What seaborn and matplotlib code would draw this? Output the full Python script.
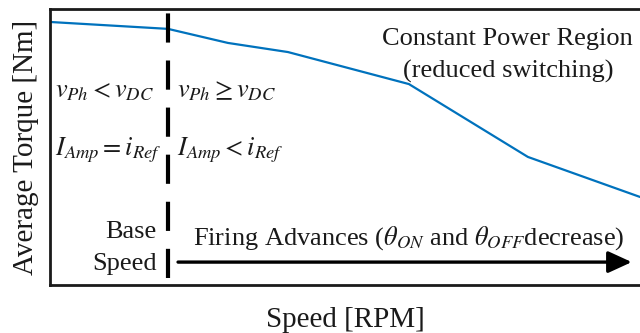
import matplotlib
matplotlib.use("Agg")
import matplotlib.pyplot as plt
import seaborn as sns
import pandas as pd

# Torque-speed curve of the drive (arbitrary units)
speed_rpm = [0, 1200, 1810, 2420, 3650, 4860, 6000]
avg_torque = [9.53, 9.28, 8.77, 8.44, 7.28, 4.64, 3.19]
base_speed = 1200

speed_max = 6000
torque_max = 10

sns.set_theme(style="white")
plt.rcParams["font.family"] = ["Liberation Serif", "DejaVu Serif"]
plt.rcParams["mathtext.fontset"] = "stix"

fig = plt.figure(figsize=(6.4, 3.33), dpi=100)
ax = fig.add_axes([50 / 640, 48 / 333, 590 / 640, 276 / 333])

df = pd.DataFrame({"Speed": speed_rpm, "Torque": avg_torque})
sns.lineplot(data=df, x="Speed", y="Torque", color="#0072BD", linewidth=1.6, ax=ax)

ax.set_xlim(0, speed_max)
ax.set_ylim(0, torque_max)
ax.set_xticks([])
ax.set_yticks([])
for side in ("left", "top", "bottom"):
    ax.spines[side].set_color("#1a1a1a")
    ax.spines[side].set_linewidth(2.0)
ax.spines["right"].set_visible(False)

ax.set_xlabel("Speed [RPM]", fontsize=21, color="#1a1a1a", labelpad=16)
ax.set_ylabel("Average Torque [Nm]", fontsize=21, color="#1a1a1a", labelpad=8)

# Base-speed boundary
ax.plot([base_speed, base_speed], [0.25, 9.89], color="black", linewidth=3.0,
        linestyle=(0, (7.0, 4.3)), solid_capstyle="butt")

tc = "#1a1a1a"
fs = 19
ax.text(0.008, 0.681, r"$v_{Ph} < v_{DC}$", transform=ax.transAxes, fontsize=fs,
        color=tc, ha="left", va="baseline")
ax.text(0.215, 0.681, r"$v_{Ph} \geq v_{DC}$", transform=ax.transAxes, fontsize=fs,
        color=tc, ha="left", va="baseline")
ax.text(0.008, 0.471, r"$I_{Amp} = i_{Ref}$", transform=ax.transAxes, fontsize=fs,
        color=tc, ha="left", va="baseline")
ax.text(0.215, 0.471, r"$I_{Amp} < i_{Ref}$", transform=ax.transAxes, fontsize=fs,
        color=tc, ha="left", va="baseline")

ax.text(0.181, 0.170, "Base", transform=ax.transAxes, fontsize=fs,
        color=tc, ha="right", va="baseline")
ax.text(0.181, 0.054, "Speed", transform=ax.transAxes, fontsize=fs,
        color=tc, ha="right", va="baseline")

ax.text(0.242, 0.145, r"Firing Advances ($\theta_{ON}$ and $\theta_{OFF}$decrease)",
        transform=ax.transAxes, fontsize=fs, color=tc, ha="left", va="baseline")

ax.text(0.776, 0.870, "Constant Power Region", transform=ax.transAxes, fontsize=fs,
        color=tc, ha="center", va="baseline")
ax.text(0.776, 0.750, "(reduced switching)", transform=ax.transAxes, fontsize=fs,
        color=tc, ha="center", va="baseline")

# Firing-advance arrow
ax.annotate("", xy=(0.986, 0.083), xytext=(0.217, 0.083),
            xycoords="axes fraction", textcoords="axes fraction",
            arrowprops=dict(arrowstyle="-|>,head_length=0.72,head_width=0.33",
                            mutation_scale=20, lw=2.4, color="black",
                            shrinkA=0, shrinkB=0))

fig.savefig("out.png", dpi=100)
